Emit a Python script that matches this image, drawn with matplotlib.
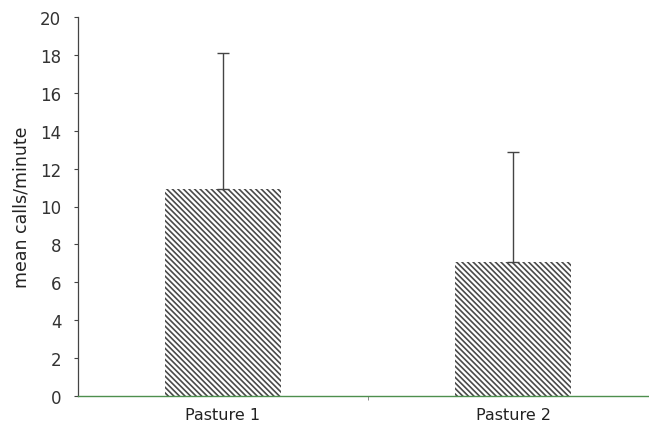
import matplotlib
matplotlib.use("Agg")
import matplotlib.pyplot as plt

categories = ["Pasture 1", "Pasture 2"]
means = [10.9, 7.05]
upper_err = [7.2, 5.85]
yticks = [0, 2, 4, 6, 8, 10, 12, 14, 16, 18, 20]

plt.rcParams['font.family'] = ['DejaVu Sans']
plt.rcParams['hatch.linewidth'] = 1.2

fig = plt.figure(figsize=(6.49, 4.35), dpi=100)
ax = fig.add_axes([78/649, 38/435, 580/649, 379/435])

x = list(range(len(categories)))
ax.bar(x, means, width=0.4, color='none', edgecolor='#4a4a4a',
       hatch='\\' * 6, linewidth=0, zorder=2)
ax.errorbar(x, means, yerr=[[0]*len(means), upper_err], fmt='none',
            ecolor='#444444', elinewidth=1, capsize=4, capthick=1, zorder=3)

ax.set_xlim(-0.5, 1.5)
ax.set_ylim(0, 20)
ax.set_yticks(yticks)
ax.set_yticklabels([str(v) for v in yticks], fontsize=12, color='#333333')
ax.set_xticks(x)
ax.set_xticklabels(categories, fontsize=11.5, color='#222222')
ax.set_xticks([0.5], minor=True)
ax.tick_params(axis='x', which='major', length=0, pad=8)
ax.tick_params(axis='x', which='minor', length=3, color='#777777', direction='out')
ax.tick_params(axis='y', length=3, width=0.8, color='#444444', pad=9, direction='out')
ax.yaxis.set_tick_params(which='minor', length=0)

for s in ['top', 'right']:
    ax.spines[s].set_visible(False)
ax.spines['left'].set_color('#444444')
ax.spines['left'].set_linewidth(0.9)
ax.spines['bottom'].set_color('#4e8f4e')
ax.spines['bottom'].set_linewidth(1.0)
ax.spines['bottom'].set_zorder(4)

ax.set_ylabel("mean calls/minute", fontsize=12.5, color='#222222', labelpad=7)

fig.savefig("out.png", dpi=100)
